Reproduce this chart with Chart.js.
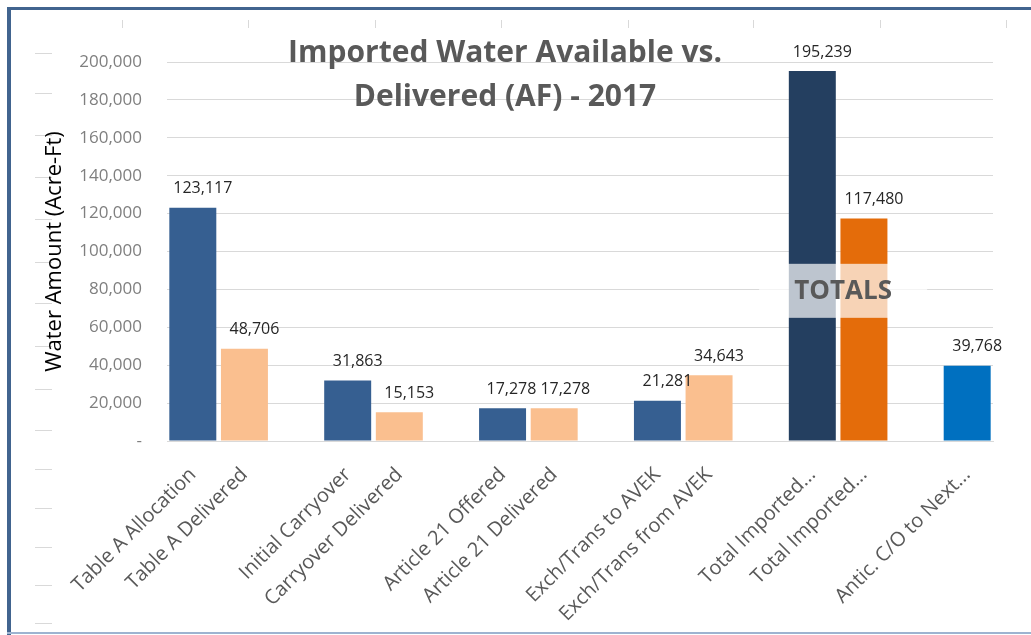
<!DOCTYPE html>
<html><head><meta charset="utf-8">
<script src="https://cdn.jsdelivr.net/npm/chart.js@4.4.1/dist/chart.umd.min.js"></script>
<style>html,body{margin:0;padding:0;background:#fff;}#wrap{position:relative;width:1031px;height:635px;}</style>
</head><body><div id="wrap"><canvas id="c" width="1031" height="635"></canvas></div>
<script>
// ---- data ----
const categories = ['Table A Allocation','Table A Delivered','','Initial Carryover','Carryover Delivered','',
  'Article 21 Offered','Article 21 Delivered','','Exch/Trans to AVEK','Exch/Trans from AVEK','',
  'Total Imported...','Total Imported...','','Antic. C/O to Next...'];
const waterAmounts = [123117,48706,null,31863,15153,null,17278,17278,null,21281,34643,null,195239,117480,null,39768];
const barColors = ['#365F91','#FABF8F',null,'#365F91','#FABF8F',null,'#365F91','#FABF8F',null,
  '#365F91','#FABF8F',null,'#243F60','#E46C0A',null,'#0070C0'];
const yTicks = [0,20000,40000,60000,80000,100000,120000,140000,160000,180000,200000];
const titleLines = ['Imported Water Available vs.','Delivered (AF) - 2017'];
const yAxisTitle = 'Water Amount (Acre-Ft)';
const totalsLabel = 'TOTALS';
const totalsIdx = [12,13];
const totalsBand = [65000,93500];

const FONT = '"Open Sans", "DejaVu Sans", sans-serif';
const fmt = v => v === 0 ? '-' : v.toLocaleString('en-US');

const decoPlugin = {
  id:'deco',
  beforeDraw(chart){
    const ctx = chart.ctx;
    ctx.save();
    ctx.fillStyle = '#fff';
    ctx.fillRect(0,0,chart.width,chart.height);
    // faint sheet marks
    ctx.strokeStyle = '#d9d9d9'; ctx.lineWidth = 1;
    [53,93,135,177,219,262,303,346,389,430,469,508,547,585,623].forEach(y=>{
      ctx.beginPath(); ctx.moveTo(35,y+0.5); ctx.lineTo(52,y+0.5); ctx.stroke();
    });
    [122,248,375,501,628,753,880,1006].forEach(x=>{
      ctx.beginPath(); ctx.moveTo(x+0.5,20); ctx.lineTo(x+0.5,28); ctx.stroke();
    });
    // frame
    ctx.fillStyle = '#41648F';
    ctx.fillRect(7,7,chart.width-7,3);
    ctx.fillRect(7,7,4,chart.height-7);
    ctx.fillStyle = '#9DB3D0';
    ctx.fillRect(7,632,chart.width-7,2);
    ctx.restore();
  },
  afterDatasetsDraw(chart){
    const ctx = chart.ctx;
    const meta = chart.getDatasetMeta(0);
    const ys = chart.scales.y;
    ctx.save();
    // data labels (nudged right like the original, then separated if they collide)
    ctx.font = '16px ' + FONT;
    ctx.fillStyle = '#262626';
    ctx.textAlign = 'center'; ctx.textBaseline = 'middle';
    const labels = [];
    meta.data.forEach((bar,i)=>{
      const v = waterAmounts[i];
      if (v == null) return;
      const t = fmt(v);
      labels.push({t, x: bar.x + 10, y: bar.y - 19, w: ctx.measureText(t).width});
    });
    for (let k = 1; k < labels.length; k++){
      const a = labels[k-1], b = labels[k];
      const need = (a.w + b.w)/2 + 4;
      if (Math.abs(a.y - b.y) < 18 && b.x - a.x < need){
        const d = (need - (b.x - a.x))/2;
        a.x -= d; b.x += d;
      }
    }
    labels.forEach(l => ctx.fillText(l.t, l.x, l.y));
    // totals overlay
    const b0 = meta.data[totalsIdx[0]], b1 = meta.data[totalsIdx[1]];
    const cx = (b0.x + b1.x)/2 + 5;
    const yTop = ys.getPixelForValue(totalsBand[1]);
    const yBot = ys.getPixelForValue(totalsBand[0]);
    ctx.fillStyle = 'rgba(255,255,255,0.7)';
    ctx.fillRect(cx - 84, yTop, 168, yBot - yTop);
    ctx.fillStyle = '#595959';
    ctx.font = 'bold 26px ' + FONT;
    ctx.fillText(totalsLabel, cx, (yTop + yBot)/2 + 1);
    // chart title
    ctx.font = 'bold 30px ' + FONT;
    ctx.fillStyle = '#595959';
    ctx.fillText(titleLines[0], 505, 53);
    ctx.fillText(titleLines[1], 505, 97);
    ctx.restore();
  }
};

new Chart(document.getElementById('c'), {
  type:'bar',
  data:{
    labels: categories,
    datasets:[{
      data: waterAmounts,
      backgroundColor: barColors,
      borderWidth: 0,
      categoryPercentage: 0.91,
      barPercentage: 1.0
    }]
  },
  options:{
    responsive:false,
    animation:false,
    devicePixelRatio:1,
    layout:{padding:{left:0,right:38,top:62,bottom:0}},
    plugins:{legend:{display:false},tooltip:{enabled:false},title:{display:false}},
    scales:{
      x:{
        grid:{display:false},
        border:{display:true,color:'#d9d9d9',width:1},
        ticks:{autoSkip:false,minRotation:45,maxRotation:45,color:'#595959',
          font:{family:FONT,size:20},padding:14},
        afterFit(s){ s.height = 194; }
      },
      y:{
        min:0,max:200000,
        afterBuildTicks(s){ s.ticks = yTicks.map(v=>({value:v})); },
        grid:{color:'#d9d9d9',drawTicks:false,lineWidth:1},
        border:{display:false},
        ticks:{color:'#7f7f7f',font:{family:FONT,size:17},padding:25,
          callback:(v)=>fmt(v)},
        title:{display:true,text:yAxisTitle,color:'#000',
          font:{family:FONT,size:22},padding:{top:42,bottom:0}},
        afterFit(s){ s.width = 167; }
      }
    }
  },
  plugins:[decoPlugin]
});
</script>
</body></html>
